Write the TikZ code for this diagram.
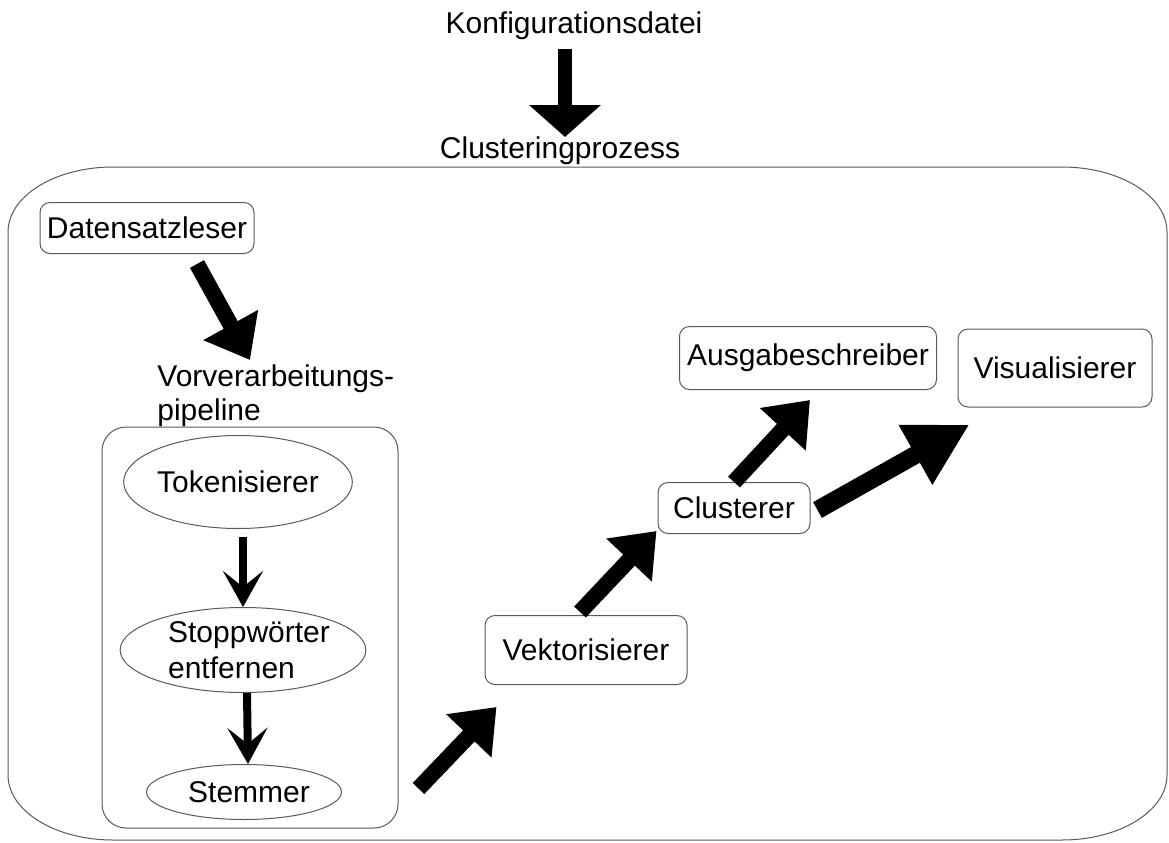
\documentclass[tikz,border=0pt]{standalone}
\usepackage{fontspec}
\setmainfont{Liberation Sans}
\usetikzlibrary{arrows.meta,shapes.geometric}

\tikzset{
  box/.style={draw=black!65, line width=0.5pt, rounded corners=5pt, inner sep=0pt},
  oval/.style={draw=black!65, line width=0.5pt, ellipse, inner sep=0pt},
  lbl/.style={inner sep=0pt},
  bigarrow/.style={line width=8pt, -{Triangle[width=30pt,length=20pt]}},
  smallarrow/.style={line width=4pt, -{Stealth[width=20pt,length=18pt,inset=8pt]}}
}

\begin{document}
\begin{tikzpicture}[x=0.5pt, y=-0.5pt, font=\fontsize{15pt}{17pt}\selectfont]
	\useasboundingbox (0,0) rectangle (1169,842);
	% outer frame
	\draw[draw=black!65, line width=0.5pt] (113,167) -- (1062,167)
	arc[start angle=-90, end angle=0, x radius=105, y radius=65] -- (1167,775)
	arc[start angle=0, end angle=90, x radius=105, y radius=65] -- (113,840)
	arc[start angle=90, end angle=180, x radius=105, y radius=65] -- (8,232)
	arc[start angle=180, end angle=270, x radius=105, y radius=65] -- cycle;
	% labels
	\node[lbl, anchor=base] (konfig) at (574,33) {Konfigurationsdatei};
	\node[lbl, anchor=base] (prozess) at (560,158) {Clusteringprozess};
	\node[lbl, anchor=north west, align=left] (vorlbl) at (157,364) {Vorverarbeitungs-\\pipeline};
	% components
	\node[box, minimum width=107pt, minimum height=25.5pt] (leser) at (147,228) {Datensatzleser};
	\node[box, rounded corners=12pt, minimum width=148pt, minimum height=200.5pt] (pipeline) at (250,627.5) {};
	\node[oval, minimum width=98.5pt, minimum height=46.5pt] (token) at (238,482) {Tokenisierer};
	\node[oval, minimum width=120pt, minimum height=42.5pt, align=left,
	  font=\fontsize{15pt}{18pt}\selectfont] (stopp) at (243,650) {\hspace*{6pt}Stoppwörter\\\hspace*{6pt}entfernen};
	\node[oval, minimum width=97.5pt, minimum height=27.5pt] (stemmer) at (244,792) {\hspace*{5pt}Stemmer};
	\node[box, minimum width=101pt, minimum height=34.5pt] (vektor) at (586,650) {Vektorisierer};
	\node[box, minimum width=76pt, minimum height=25.5pt] (clusterer) at (734,508) {Clusterer};
	\node[box, minimum width=128.5pt, minimum height=31.5pt] (ausgabe) at (808,358) {Ausgabeschreiber};
	\node[box, minimum width=97pt, minimum height=39pt] (visual) at (1055,368) {Visualisierer};
	% arrows
	\draw[bigarrow, line width=7pt, -{Triangle[width=35pt,length=16pt]}]
	  ([shift={(-9,16)}]konfig.base) -- ([shift={(5,-21)}]prozess.base);
	\draw[bigarrow] ([shift={(50,10)}]leser.south) -- ([shift={(93,-4)}]vorlbl.north west);
	\draw[smallarrow] ([shift={(5,8)}]token.south) -- (stopp.north);
	\draw[smallarrow] ([shift={(4,0)}]stopp.south) -- ([shift={(4,0)}]stemmer.north);
	\draw[bigarrow] ([shift={(20,-40)}]pipeline.south east) -- ([shift={(12,22)}]vektor.south west);
	\draw[bigarrow] ([shift={(-6,-3)}]vektor.north) -- ([shift={(-1,-3)}]clusterer.south west);
	\draw[bigarrow] (clusterer.north) -- ([shift={(2,10)}]ausgabe.south);
	\draw[bigarrow, line width=9pt, -{Triangle[width=32pt,length=31pt]}]
	  ([shift={(7,2)}]clusterer.east) -- ([shift={(12,17)}]visual.south west);
\end{tikzpicture}
\end{document}
